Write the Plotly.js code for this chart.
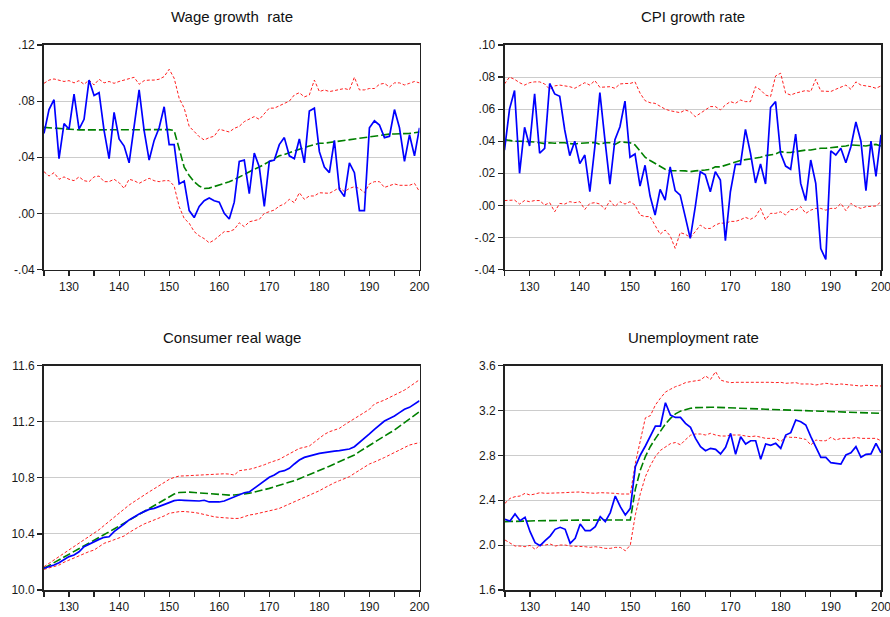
<!DOCTYPE html>
<html>
<head>
<meta charset="utf-8">
<script src="https://cdn.plot.ly/plotly-3.0.1.min.js"></script>
<style>html,body{margin:0;padding:0;background:#fff;}#chart{width:890px;height:617px;}</style>
</head>
<body>
<div id="chart"></div>
<script>
const periods = [125,126,127,128,129,130,131,132,133,134,135,136,137,138,139,140,141,142,143,144,145,146,147,148,149,150,151,152,153,154,155,156,157,158,159,160,161,162,163,164,165,166,167,168,169,170,171,172,173,174,175,176,177,178,179,180,181,182,183,184,185,186,187,188,189,190,191,192,193,194,195,196,197,198,199,200];

const panelTitles = ["Wage growth  rate", "CPI growth rate", "Consumer real wage", "Unemployment rate"];

const xTickVals = [125,130,135,140,145,150,155,160,165,170,175,180,185,190,195,200];
const xTickText = ["","130","","140","","150","","160","","170","","180","","190","","200"];

// Wage growth rate
const wageActual = [0.057,0.074,0.081,0.039,0.064,0.060,0.085,0.060,0.067,0.095,
0.084,0.086,0.059,0.039,0.072,0.053,0.048,0.036,0.062,0.088,
0.059,0.038,0.052,0.061,0.076,0.049,0.049,0.021,0.023,0.002,
-0.003,0.005,0.009,0.011,0.009,0.008,0.000,-0.004,0.008,0.037,
0.038,0.014,0.043,0.033,0.005,0.037,0.038,0.049,0.054,0.041,
0.039,0.053,0.036,0.073,0.075,0.044,0.033,0.029,0.052,0.017,
0.012,0.036,0.029,0.002,0.002,0.061,0.066,0.063,0.054,0.055,
0.074,0.061,0.037,0.056,0.041,0.061];
const wageMean = [0.0613,0.061,0.0605,0.0603,0.060,0.060,0.0595,0.0595,0.0595,0.0595,
0.0595,0.0598,0.0595,0.0598,0.0597,0.0597,0.0597,0.0597,0.0598,0.0596,
0.0598,0.0597,0.0597,0.0600,0.0598,0.0597,0.059,0.045,0.033,0.027,
0.0225,0.0195,0.0177,0.018,0.019,0.020,0.021,0.0225,0.024,0.026,
0.028,0.030,0.0315,0.033,0.035,0.037,0.039,0.041,0.042,0.043,
0.0445,0.0457,0.047,0.048,0.049,0.050,0.050,0.0505,0.051,0.052,
0.0525,0.053,0.0535,0.054,0.0545,0.055,0.0555,0.056,0.056,0.0565,
0.0566,0.0566,0.0565,0.057,0.0575,0.058];
const wageUpper = [0.0927,0.095,0.0958,0.095,0.094,0.0946,0.093,0.0946,0.092,0.095,
0.0915,0.0956,0.093,0.094,0.0927,0.094,0.095,0.0956,0.097,0.092,
0.0946,0.095,0.095,0.0956,0.0975,0.1027,0.0963,0.082,0.075,0.062,
0.058,0.0547,0.0523,0.054,0.055,0.060,0.059,0.058,0.0606,0.062,
0.0654,0.067,0.069,0.067,0.0708,0.075,0.075,0.0766,0.0785,0.080,
0.0844,0.086,0.083,0.0844,0.095,0.0868,0.088,0.0868,0.0875,0.0885,
0.089,0.088,0.097,0.088,0.088,0.089,0.089,0.092,0.0927,0.090,
0.093,0.093,0.0915,0.0927,0.094,0.093];
const wageLower = [0.0297,0.0266,0.029,0.0243,0.026,0.0243,0.0233,0.026,0.0233,0.0226,
0.026,0.0266,0.0226,0.0226,0.0243,0.0219,0.0178,0.0243,0.0233,0.0214,
0.0233,0.025,0.0233,0.0226,0.0233,0.0233,0.0195,0.0048,-0.0036,-0.007,
-0.013,-0.016,-0.018,-0.021,-0.019,-0.016,-0.013,-0.013,-0.0114,-0.0067,
-0.0095,-0.006,-0.0052,-0.0043,0.000,0.0012,0.0024,0.0052,0.0067,0.010,
0.0076,0.0147,0.010,0.0124,0.0124,0.0147,0.0143,0.0143,0.0162,0.0185,
0.0155,0.0178,0.019,0.0178,0.0147,0.021,0.0226,0.0226,0.0185,0.0195,
0.021,0.020,0.020,0.020,0.0214,0.0155];

// CPI growth rate
const cpiActual = [0.0345,0.060,0.0716,0.020,0.0487,0.037,0.0695,0.0325,0.0356,0.076,
0.0695,0.068,0.047,0.031,0.040,0.026,0.0314,0.0085,0.0366,0.0703,
0.041,0.0133,0.041,0.049,0.065,0.030,0.032,0.012,0.025,0.0058,
-0.006,0.010,0.0033,0.024,0.0092,0.0064,-0.007,-0.0206,-0.001,0.021,
0.019,0.0085,0.021,0.0158,-0.022,0.0085,0.0256,0.0256,0.0474,0.0325,
0.014,0.0258,0.0133,0.061,0.0647,0.0325,0.0245,0.0225,0.0445,0.0137,
0.003,0.0283,0.0137,-0.027,-0.0337,0.034,0.0314,0.0356,0.0266,0.0366,
0.052,0.040,0.0092,0.040,0.018,0.044];
const cpiMean = [0.041,0.0405,0.040,0.040,0.0398,0.040,0.0395,0.039,0.0385,0.039,
0.0387,0.039,0.039,0.0385,0.0383,0.0387,0.039,0.039,0.0392,0.038,
0.039,0.039,0.038,0.0397,0.0395,0.039,0.0377,0.0335,0.030,0.028,
0.026,0.024,0.0225,0.0216,0.0218,0.0216,0.0215,0.021,0.0215,0.0216,
0.022,0.0225,0.024,0.024,0.025,0.026,0.027,0.028,0.0285,0.029,
0.0295,0.030,0.031,0.0314,0.032,0.0335,0.033,0.033,0.0335,0.034,
0.0345,0.0345,0.035,0.0356,0.0356,0.036,0.036,0.0366,0.037,0.0377,
0.0375,0.037,0.037,0.0377,0.038,0.037];
const cpiUpper = [0.0757,0.080,0.0786,0.0765,0.075,0.0765,0.077,0.077,0.0757,0.0724,
0.0745,0.075,0.0745,0.074,0.073,0.075,0.0765,0.075,0.0778,0.0736,
0.074,0.074,0.073,0.0757,0.076,0.076,0.077,0.070,0.0653,0.064,
0.0636,0.0616,0.060,0.059,0.0584,0.0578,0.0595,0.0584,0.0553,0.0574,
0.0595,0.0616,0.0616,0.0595,0.0626,0.0647,0.0636,0.0657,0.0647,0.0647,
0.074,0.072,0.0688,0.0678,0.0807,0.0824,0.070,0.0688,0.070,0.071,
0.0716,0.071,0.0786,0.0713,0.071,0.071,0.0724,0.0736,0.075,0.0724,
0.077,0.075,0.0745,0.074,0.073,0.0745];
const cpiLower = [0.003,0.003,0.0033,0.0008,0.003,0.0023,0.003,0.003,0.0002,0.0017,
-0.004,0.0012,0.0008,0.0023,0.0017,0.0023,-0.0025,0.0012,0.0017,0.0008,
-0.0025,0.003,-0.0008,0.0023,0.0008,0.0023,0.0002,-0.006,-0.007,-0.007,
-0.0123,-0.018,-0.0154,-0.019,-0.0268,-0.017,-0.018,-0.020,-0.0164,-0.0123,
-0.0144,-0.0144,-0.0123,-0.011,-0.0112,-0.010,-0.010,-0.009,-0.0075,-0.0087,
-0.007,-0.0019,-0.009,-0.005,-0.005,-0.004,-0.006,-0.0025,-0.003,-0.0008,
-0.005,-0.003,-0.0019,-0.0019,-0.003,-0.0019,-0.0019,0.0012,-0.0033,0.0012,
-0.0008,-0.0019,-0.0008,-0.0004,-0.0004,0.0023];

// Consumer real wage
const rwActual = [10.155,10.166,10.178,10.195,10.214,10.238,10.25,10.273,10.309,10.328,
10.345,10.361,10.376,10.38,10.416,10.447,10.471,10.50,10.523,10.542,
10.559,10.575,10.582,10.594,10.606,10.623,10.637,10.642,10.64,10.637,
10.637,10.635,10.64,10.628,10.628,10.628,10.635,10.651,10.663,10.678,
10.694,10.70,10.725,10.749,10.773,10.804,10.82,10.844,10.851,10.868,
10.899,10.927,10.946,10.956,10.963,10.975,10.98,10.987,10.991,10.994,
10.999,11.006,11.022,11.051,11.082,11.113,11.146,11.177,11.205,11.224,
11.241,11.265,11.289,11.303,11.327,11.35];
const rwMean = [10.155,10.175,10.195,10.215,10.233,10.25,10.27,10.29,10.31,10.33,
10.352,10.373,10.394,10.415,10.435,10.456,10.477,10.497,10.518,10.538,
10.559,10.58,10.602,10.623,10.645,10.666,10.685,10.696,10.699,10.698,
10.695,10.692,10.688,10.685,10.681,10.678,10.677,10.677,10.678,10.68,
10.685,10.69,10.697,10.708,10.716,10.725,10.735,10.746,10.757,10.768,
10.78,10.794,10.808,10.822,10.837,10.851,10.867,10.883,10.899,10.915,
10.932,10.948,10.963,10.987,11.01,11.034,11.055,11.076,11.098,11.12,
11.141,11.167,11.193,11.22,11.246,11.272];
const rwUpper = [10.166,10.19,10.215,10.238,10.262,10.285,10.31,10.335,10.36,10.382,
10.404,10.43,10.46,10.49,10.52,10.552,10.58,10.606,10.63,10.655,
10.678,10.7,10.722,10.745,10.768,10.789,10.803,10.813,10.814,10.816,
10.818,10.822,10.826,10.827,10.827,10.828,10.829,10.827,10.82,10.851,
10.855,10.861,10.87,10.88,10.893,10.908,10.92,10.932,10.952,10.97,
10.99,11.01,11.018,11.027,11.055,11.082,11.11,11.129,11.14,11.153,
11.178,11.20,11.225,11.248,11.268,11.289,11.327,11.34,11.355,11.373,
11.391,11.408,11.426,11.45,11.475,11.50];
const rwLower = [10.147,10.158,10.168,10.178,10.198,10.214,10.23,10.246,10.262,10.274,
10.285,10.31,10.333,10.345,10.357,10.368,10.385,10.41,10.433,10.452,
10.471,10.485,10.499,10.513,10.528,10.547,10.555,10.559,10.56,10.559,
10.553,10.547,10.538,10.528,10.522,10.518,10.514,10.511,10.51,10.511,
10.525,10.535,10.54,10.547,10.557,10.566,10.573,10.582,10.598,10.613,
10.628,10.642,10.66,10.678,10.693,10.708,10.728,10.749,10.765,10.78,
10.794,10.808,10.832,10.856,10.878,10.899,10.913,10.927,10.945,10.963,
10.981,10.999,11.016,11.034,11.043,11.051];

// Unemployment rate
const unActual = [2.23,2.215,2.278,2.218,2.248,2.12,2.022,1.995,2.04,2.081,
2.141,2.159,2.141,2.016,2.061,2.188,2.129,2.129,2.165,2.254,
2.209,2.29,2.438,2.343,2.269,2.328,2.70,2.804,2.884,2.973,
3.062,3.062,3.27,3.16,3.139,3.139,3.086,3.05,2.952,2.878,
2.842,2.863,2.854,2.813,2.872,2.997,2.81,2.967,2.902,2.931,
2.931,2.765,2.902,2.89,2.908,2.863,2.982,3.003,3.116,3.10,
3.071,2.967,2.878,2.783,2.783,2.735,2.729,2.723,2.804,2.824,
2.878,2.783,2.81,2.813,2.908,2.824];
const unMean = [2.21,2.21,2.212,2.213,2.215,2.215,2.217,2.217,2.218,2.218,
2.215,2.22,2.222,2.222,2.222,2.222,2.222,2.222,2.222,2.224,
2.224,2.224,2.224,2.224,2.224,2.225,2.50,2.67,2.79,2.88,
2.95,3.02,3.08,3.13,3.17,3.195,3.21,3.22,3.226,3.229,
3.23,3.229,3.229,3.228,3.225,3.222,3.22,3.22,3.219,3.217,
3.216,3.214,3.212,3.21,3.207,3.205,3.203,3.20,3.199,3.198,
3.197,3.196,3.195,3.194,3.193,3.191,3.19,3.189,3.188,3.186,
3.185,3.183,3.182,3.18,3.178,3.175];
const unUpper = [2.373,2.417,2.432,2.438,2.462,2.447,2.456,2.468,2.462,2.462,
2.468,2.468,2.468,2.471,2.474,2.474,2.468,2.462,2.462,2.468,
2.468,2.462,2.462,2.456,2.456,2.456,2.73,2.92,3.135,3.155,
3.25,3.31,3.365,3.39,3.413,3.428,3.449,3.458,3.466,3.472,
3.508,3.478,3.547,3.472,3.458,3.449,3.452,3.452,3.455,3.452,
3.455,3.458,3.455,3.452,3.449,3.452,3.443,3.446,3.449,3.437,
3.437,3.437,3.428,3.437,3.443,3.437,3.431,3.437,3.431,3.425,
3.419,3.419,3.425,3.425,3.425,3.419];
const unLower = [2.046,2.022,1.992,1.992,1.986,1.998,1.963,2.001,2.001,2.01,
1.992,2.001,2.001,1.992,1.992,1.986,1.986,1.98,1.986,1.98,
1.971,1.971,1.98,1.98,1.95,2.001,2.27,2.46,2.61,2.71,
2.79,2.845,2.875,2.905,2.915,2.895,2.94,2.98,2.991,2.991,
2.982,2.997,2.982,2.973,2.973,2.982,2.982,2.982,2.973,2.967,
2.973,2.961,2.952,2.952,2.952,2.923,2.967,2.961,2.961,2.952,
2.943,2.893,2.937,2.931,2.931,2.961,2.937,2.952,2.952,2.952,
2.961,2.952,2.952,2.952,2.952,2.931];

const yTicks = [
  {vals:[-0.04,0,0.04,0.08,0.12], text:["-.04",".00",".04",".08",".12"], range:[-0.04,0.12]},
  {vals:[-0.04,-0.02,0,0.02,0.04,0.06,0.08,0.10], text:["-.04","-.02",".00",".02",".04",".06",".08",".10"], range:[-0.04,0.10]},
  {vals:[10.0,10.4,10.8,11.2,11.6], text:["10.0","10.4","10.8","11.2","11.6"], range:[10.0,11.6]},
  {vals:[1.6,2.0,2.4,2.8,3.2,3.6], text:["1.6","2.0","2.4","2.8","3.2","3.6"], range:[1.6,3.6]}
];

const panels = [
  [wageActual, wageMean, wageUpper, wageLower],
  [cpiActual, cpiMean, cpiUpper, cpiLower],
  [rwActual, rwMean, rwUpper, rwLower],
  [unActual, unMean, unUpper, unLower]
];

const W = 890, H = 617;
const xDomPx = [[44, 419.5], [504.5, 881], [44, 419.5], [505, 881]];
const yDomPx = [[45, 269.5], [45, 269.5], [365.7, 590], [365.7, 590]];
const titleYPx = [17, 17, 337, 337];

const traces = [];
const layout = {
  width: W, height: H,
  margin: {l:0, r:0, t:0, b:0},
  paper_bgcolor: '#ffffff', plot_bgcolor: '#ffffff',
  showlegend: false,
  font: {family: 'Liberation Sans, Arial, sans-serif', size: 12, color: '#1a1a1a'},
  annotations: []
};

const styles = [
  {color:'#0000ff', width:1.7, dash:'solid'},
  {color:'#008000', width:1.6, dash:'8px,3px'},
  {color:'#ff2020', width:1, dash:'3px,2px'},
  {color:'#ff2020', width:1, dash:'3px,2px'}
];

panels.forEach((series, i) => {
  const sfx = i === 0 ? '' : String(i + 1);
  [2, 3, 1, 0].forEach(k => {
    traces.push({
      x: periods, y: series[k], type: 'scatter', mode: 'lines',
      xaxis: 'x' + sfx, yaxis: 'y' + sfx,
      line: {color: styles[k].color, width: styles[k].width, dash: styles[k].dash},
      hoverinfo: 'skip'
    });
  });
  const xd = [xDomPx[i][0] / W, xDomPx[i][1] / W];
  const yd = [(H - yDomPx[i][1]) / H, (H - yDomPx[i][0]) / H];
  layout['xaxis' + sfx] = {
    domain: xd, anchor: 'y' + sfx, range: [125, 200],
    tickmode: 'array', tickvals: xTickVals, ticktext: xTickText,
    ticks: 'outside', ticklen: 5, tickwidth: 1.2, tickcolor: '#222',
    ticklabeloverflow: 'allow',
    showgrid: false, zeroline: false,
    showline: true, mirror: true, linecolor: '#222', linewidth: 1.8,
    tickfont: {size: 12, color: '#1a1a1a'}
  };
  layout['yaxis' + sfx] = {
    domain: yd, anchor: 'x' + sfx, range: yTicks[i].range,
    tickmode: 'array', tickvals: yTicks[i].vals, ticktext: yTicks[i].text,
    ticks: 'outside', ticklen: 5, tickwidth: 1.2, tickcolor: '#222',
    ticklabeloverflow: 'allow',
    showgrid: true, gridcolor: '#cccccc', gridwidth: 1, zeroline: false,
    showline: true, mirror: true, linecolor: '#222', linewidth: 1.8,
    tickfont: {size: 12, color: '#1a1a1a'}
  };
  layout.annotations.push({
    text: panelTitles[i], xref: 'paper', yref: 'paper',
    x: (xd[0] + xd[1]) / 2, y: (H - titleYPx[i]) / H,
    xanchor: 'center', yanchor: 'middle', showarrow: false,
    font: {size: 15, color: '#111'}
  });
});

Plotly.newPlot('chart', traces, layout, {staticPlot: true, displayModeBar: false});
</script>
</body>
</html>
